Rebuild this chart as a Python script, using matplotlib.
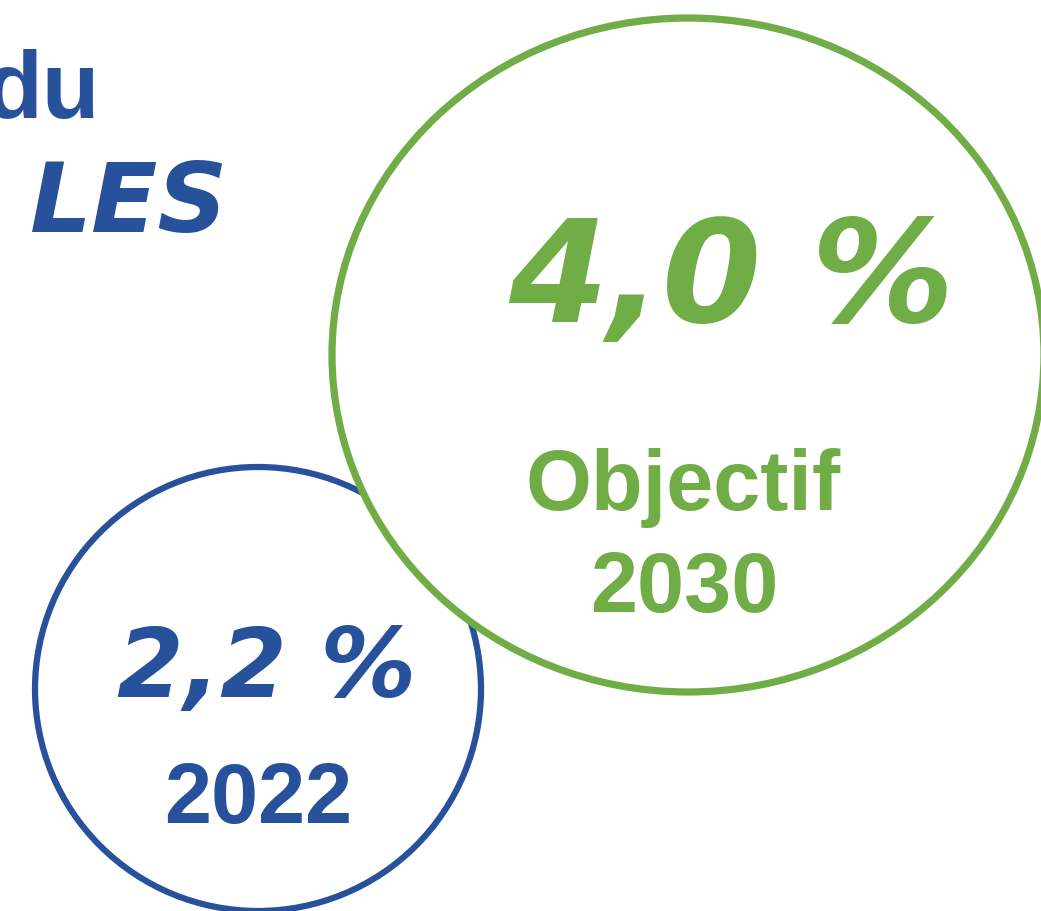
import matplotlib
matplotlib.use("Agg")
import matplotlib.pyplot as plt
from matplotlib.patches import Ellipse

# Data
values = [2.2, 4.0]
labels = ["2022", "Objectif\n2030"]
title_fragments = ["du", "LES"]

BLUE = "#27519B"
GREEN = "#71AD47"

W, H = 1041, 911
fig = plt.figure(figsize=(W / 100, H / 100), dpi=100)
ax = fig.add_axes([0, 0, 1, 1])
ax.set_xlim(0, W)
ax.set_ylim(H, 0)
ax.set_aspect("equal")
ax.axis("off")

def fmt(v):
    return f"{v:.1f}".replace(".", ",") + " %"

# blue circle (2022)
ax.add_patch(Ellipse((258, 689), 446, 444, facecolor="white", edgecolor=BLUE, lw=4.5, zorder=1))
# green ellipse (2030), on top
ax.add_patch(Ellipse((688, 355), 712, 674, facecolor="white", edgecolor=GREEN, lw=5.2, zorder=2))

# title fragments (top-left, cut)
ax.text(100, 118, title_fragments[0], color=BLUE, fontsize=68, fontweight="bold",
        family="Liberation Sans", ha="right", va="baseline", zorder=3)
ax.text(228, 232, title_fragments[1], color=BLUE, fontsize=70, fontweight="bold",
        style="italic", family="DejaVu Sans", ha="right", va="baseline", zorder=3)

# values
ax.text(267, 697, fmt(values[0]), color=BLUE, fontsize=69, fontweight="bold",
        style="italic", family="DejaVu Sans", ha="center", va="baseline", zorder=3)
ax.text(731, 322, fmt(values[1]), color=GREEN, fontsize=103, fontweight="bold",
        style="italic", family="DejaVu Sans", ha="center", va="baseline", zorder=3)

# year labels
ax.text(258, 823, labels[0], color=BLUE, fontsize=61, fontweight="bold",
        family="Liberation Sans", ha="center", va="baseline", zorder=3)
l1, l2 = labels[1].split("\n")
ax.text(683, 510, l1, color=GREEN, fontsize=61, fontweight="bold",
        family="Liberation Sans", ha="center", va="baseline", zorder=3)
ax.text(684, 612, l2, color=GREEN, fontsize=61, fontweight="bold",
        family="Liberation Sans", ha="center", va="baseline", zorder=3)

fig.savefig("out.png", dpi=100, facecolor="white")
